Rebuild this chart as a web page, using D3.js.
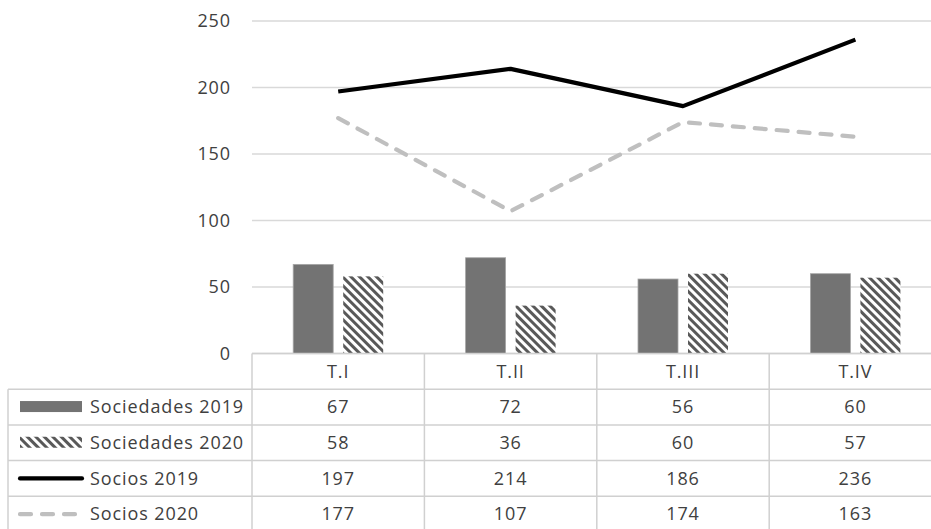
<!DOCTYPE html>
<html>
<head>
<meta charset="utf-8">
<script src="https://cdn.jsdelivr.net/npm/d3@7"></script>
<style>
  html, body { margin: 0; padding: 0; background: #fff; overflow: hidden; }
  svg { display: block; font-family: "Open Sans", sans-serif; }
</style>
</head>
<body>
<svg id="chart" width="931" height="529"></svg>
<script>
// data
const quarters = ["T. I", "T. II", "T. III", "T. IV"];
const sociedades2019 = [67, 72, 56, 60];
const sociedades2020 = [58, 36, 60, 57];
const socios2019 = [197, 214, 186, 236];
const socios2020 = [177, 107, 174, 163];
const yTicks = [0, 50, 100, 150, 200, 250];

const series = [
  { name: "Sociedades 2019", values: sociedades2019, kind: "bar", fill: "#737373" },
  { name: "Sociedades 2020", values: sociedades2020, kind: "bar", fill: "url(#stripes)" },
  { name: "Socios 2019", values: socios2019, kind: "line", stroke: "#000", dash: null },
  { name: "Socios 2020", values: socios2020, kind: "line", stroke: "#bfbfbf", dash: "11,11" }
];

const svg = d3.select("#chart");
const textColor = "#404040";
const gridColor = "#d9d9d9";
const tableColor = "#d0d0d0";
const fontSize = 18, spacing = "0.9px";

// plot area (right side runs past the window, as in the reference)
const plotLeft = 252, plotRight = 941.6, plotTop = 21, plotBottom = 353.5;
const rowH = 35.7;
const tableLeft = 8;

const defs = svg.append("defs");
const pat = defs.append("pattern")
  .attr("id", "stripes")
  .attr("patternUnits", "userSpaceOnUse")
  .attr("width", 6).attr("height", 6)
  .attr("patternTransform", "rotate(45)");
pat.append("rect").attr("width", 6).attr("height", 6).attr("fill", "#fff");
pat.append("rect").attr("width", 6).attr("height", 3).attr("fill", "#595959");

const x = d3.scaleBand().domain(quarters).range([plotLeft, plotRight]);
const y = d3.scaleLinear().domain([0, 250]).range([plotBottom, plotTop]);

// gridlines
svg.append("g").selectAll("line").data(yTicks).join("line")
  .attr("x1", plotLeft).attr("x2", plotRight)
  .attr("y1", d => y(d)).attr("y2", d => y(d))
  .attr("stroke", gridColor).attr("stroke-width", 1.3);

// y axis labels
const yAxis = svg.append("g")
  .attr("transform", `translate(${plotLeft},0)`)
  .call(d3.axisLeft(y).tickValues(yTicks).tickSize(0).tickPadding(21));
yAxis.select(".domain").remove();
yAxis.selectAll("text").attr("fill", textColor).attr("font-size", fontSize)
  .attr("letter-spacing", spacing)
  .attr("font-family", "Open Sans, sans-serif");

// bars
const barW = x.bandwidth() * 0.232;
const gap = 10;
const bars = series.filter(s => s.kind === "bar");
bars.forEach((s, i) => {
  svg.append("g").selectAll("rect").data(s.values).join("rect")
    .attr("x", (d, j) => x(quarters[j]) + x.bandwidth() / 2 - barW - gap / 2 + i * (barW + gap))
    .attr("y", d => y(d))
    .attr("width", barW)
    .attr("height", d => y(0) - y(d))
    .attr("fill", s.fill)
    .attr("stroke", i === 0 ? "#a6a6a6" : "none")
    .attr("stroke-width", 0.8);
});

// lines
const line = d3.line()
  .x((d, j) => x(quarters[j]) + x.bandwidth() / 2)
  .y(d => y(d));
series.filter(s => s.kind === "line").forEach(s => {
  svg.append("path").datum(s.values)
    .attr("d", line)
    .attr("fill", "none")
    .attr("stroke", s.stroke)
    .attr("stroke-width", 4.2)
    .attr("stroke-linejoin", "round")
    .attr("stroke-linecap", s.dash ? "round" : "butt")
    .attr("stroke-dasharray", s.dash);
});

// data table
const table = svg.append("g");
const tableBottom = plotBottom + rowH * (series.length + 1);
// horizontal rules
table.append("line").attr("x1", plotLeft).attr("x2", plotRight)
  .attr("y1", plotBottom).attr("y2", plotBottom)
  .attr("stroke", tableColor).attr("stroke-width", 1.5);
d3.range(1, series.length + 2).forEach(r => {
  table.append("line").attr("x1", tableLeft).attr("x2", plotRight)
    .attr("y1", plotBottom + r * rowH).attr("y2", plotBottom + r * rowH)
    .attr("stroke", tableColor).attr("stroke-width", 1.5);
});
// vertical rules
table.append("line").attr("x1", tableLeft).attr("x2", tableLeft)
  .attr("y1", plotBottom + rowH).attr("y2", tableBottom)
  .attr("stroke", tableColor).attr("stroke-width", 1.5);
d3.range(quarters.length + 1).forEach(j => {
  const xx = plotLeft + j * x.bandwidth();
  table.append("line").attr("x1", xx).attr("x2", xx)
    .attr("y1", plotBottom).attr("y2", tableBottom)
    .attr("stroke", tableColor).attr("stroke-width", 1.5);
});

// header
table.selectAll(".hdr").data(quarters).join("text")
  .attr("class", "hdr")
  .attr("x", d => x(d) + x.bandwidth() / 2)
  .attr("y", plotBottom + rowH / 2)
  .attr("dy", "0.35em")
  .attr("text-anchor", "middle")
  .attr("font-size", fontSize).attr("letter-spacing", spacing)
  .attr("fill", textColor)
  .text(d => d.replace(" ", ""));

series.forEach((s, r) => {
  const cy = plotBottom + rowH * (r + 1.5);
  const g = table.append("g");
  if (s.kind === "bar") {
    g.append("rect").attr("x", 20).attr("y", cy - 6).attr("width", 62).attr("height", 11)
      .attr("fill", s.fill);
  } else {
    g.append("line").attr("x1", 20).attr("x2", 82).attr("y1", cy).attr("y2", cy)
      .attr("stroke", s.stroke).attr("stroke-width", 4.2)
      .attr("stroke-linecap", "round")
      .attr("stroke-dasharray", s.dash ? "11,11" : null);
  }
  g.append("text").attr("x", 90).attr("y", cy).attr("dy", "0.35em")
    .attr("font-size", fontSize).attr("letter-spacing", spacing)
    .attr("fill", textColor).text(s.name);
  g.selectAll(".val").data(s.values).join("text")
    .attr("class", "val")
    .attr("x", (d, j) => x(quarters[j]) + x.bandwidth() / 2)
    .attr("y", cy).attr("dy", "0.35em")
    .attr("text-anchor", "middle")
    .attr("font-size", fontSize).attr("letter-spacing", spacing)
    .attr("fill", textColor)
    .text(d => d);
});
</script>
</body>
</html>
